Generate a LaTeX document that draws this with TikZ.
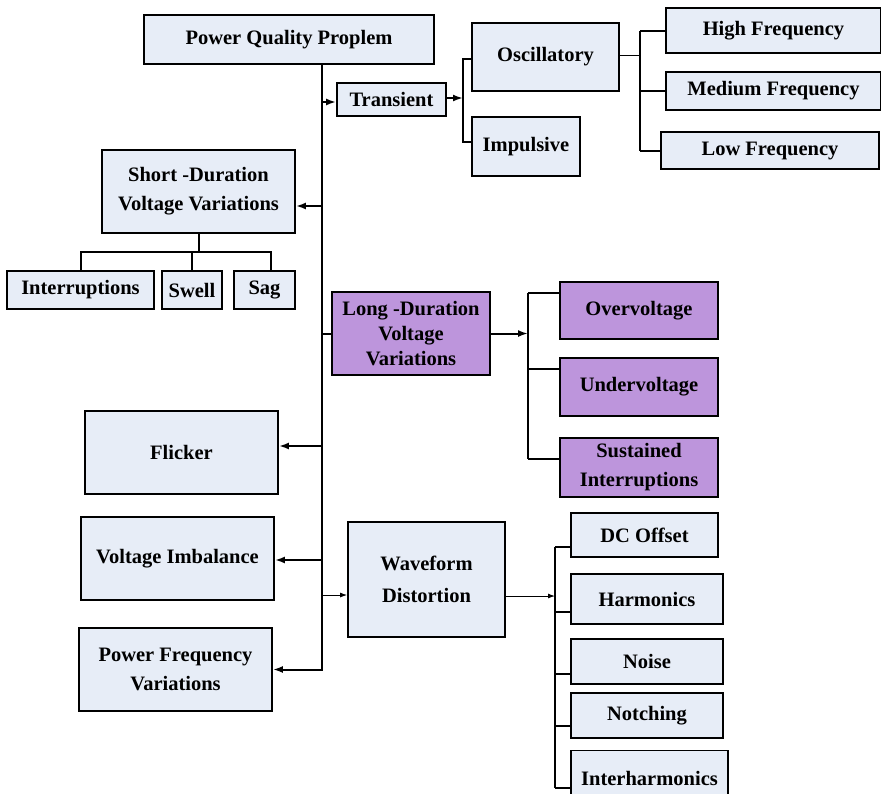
\documentclass[tikz,border=0pt]{standalone}
\usepackage{fontspec}
\setmainfont{Liberation Serif}
\usetikzlibrary{arrows.meta, positioning, calc}
\definecolor{boxblue}{HTML}{E7EDF7}
\definecolor{longpurple}{HTML}{BD95DC}

\begin{document}
\begin{tikzpicture}[
    x=1pt, y=-1pt,
    box/.style={draw, line width=1.8pt, fill=boxblue, inner sep=2pt, align=center, font=\fontsize{20.5}{29}\selectfont\bfseries},
    pbox/.style={box, fill=longpurple},
    line/.style={line width=2pt},
    thinline/.style={line width=0.9pt},
    arr/.style={-{Latex[length=10pt, width=7pt]}, line width=2pt},
    tarr/.style={-{Latex[length=7pt, width=5pt]}, line width=0.9pt},
]
\useasboundingbox (0,0) rectangle (881,793);

% root and the trunk below it
\node[box, minimum width=290pt, minimum height=49pt] (pqp) at (289,39.5) {Power Quality Proplem};
\coordinate (trunk) at (322,0);

% left side
\node[box, minimum width=193pt, minimum height=83pt] (sdv) at (198.5,191.5) {Short -Duration\\Voltage Variations};
\node[box, minimum width=147pt, minimum height=38pt] (intr) at (80.5,290) {Interruptions};
\node[box, minimum width=60pt, minimum height=38pt] (swell) at (192,290) {Swell};
\node[box, minimum width=61pt, minimum height=38pt] (sag) at (264.5,290) {Sag};
\node[box, minimum width=193pt, minimum height=83pt] (fl) at (181.5,452.5) {Flicker};
\node[box, minimum width=193pt, minimum height=83pt] (vi) at (177.5,558.5) {Voltage Imbalance};
\node[box, minimum width=193pt, minimum height=83pt] (pfv) at (175.5,669.5) {Power Frequency\\Variations};

% transient branch
\node[box, minimum width=109pt, minimum height=33pt] (trans) at (391.5,99.5) {Transient};
\node[box, minimum width=147pt, minimum height=68pt] (osc) at (545.5,57) {Oscillatory};
\node[box, minimum width=108pt, minimum height=59pt] (imp) at (526,146.5) {Impulsive};
\node[box, minimum width=215pt, minimum height=45pt] (hf) at (773.5,30.5) {High Frequency};
\node[box, minimum width=215pt, minimum height=38pt] (mf) at (773.5,91) {Medium Frequency};
\node[box, minimum width=218pt, minimum height=37pt] (lf) at (770,150.5) {Low Frequency};

% long duration branch
\node[pbox, minimum width=158pt, minimum height=83pt, font=\fontsize{20.5}{25}\selectfont\bfseries] (ldv) at (411,333.5) {Long -Duration\\Voltage\\Variations};
\node[pbox, minimum width=158pt, minimum height=57pt] (ov) at (639,310.5) {Overvoltage};
\node[pbox, minimum width=158pt, minimum height=58pt] (uv) at (639,387) {Undervoltage};
\node[pbox, minimum width=158pt, minimum height=59pt] (si) at (639,467.5) {Sustained\\Interruptions};

% waveform distortion branch
\node[box, minimum width=157pt, minimum height=115pt, font=\fontsize{20.5}{32}\selectfont\bfseries] (wd) at (426.5,579.5) {Waveform\\Distortion};
\node[box, minimum width=147pt, minimum height=44pt] (dc) at (644.5,535) {DC Offset};
\node[box, minimum width=152pt, minimum height=50pt] (har) at (647,599) {Harmonics};
\node[box, minimum width=152pt, minimum height=45pt] (noi) at (647,661.5) {Noise};
\node[box, minimum width=152pt, minimum height=45pt] (notc) at (647,715.5) {Notching};
\node[box, minimum width=157pt, minimum height=55pt] (ih) at (649.5,778) {Interharmonics};

% trunk
\draw[arr] (pqp.south -| trunk) |- (pfv.east);
\draw[arr] ([yshift=-2.5pt]trans.west -| trunk) -- ([yshift=-2.5pt]trans.west);
\draw[arr] ([yshift=-14.5pt]sdv.east -| trunk) -- ([yshift=-14.5pt]sdv.east);
\draw[arr] ([yshift=6.5pt]fl.east -| trunk) -- ([yshift=6.5pt]fl.east);
\draw[arr] ([yshift=-1.5pt]vi.east -| trunk) -- ([yshift=-1.5pt]vi.east);
\draw[line] (ldv.west -| trunk) -- (ldv.west);
\draw[tarr] ([yshift=-15.5pt]wd.west -| trunk) -- ([yshift=-15.5pt]wd.west);

% short duration children
\coordinate (sdbar) at (0,252);
\draw[line] (sdv.south) -- (sdv.south |- sdbar);
\draw[line] (intr.north) |- ([xshift=6.5pt]sag.north |- sdbar) -- ([xshift=6.5pt]sag.north);
\draw[line] (swell.north) -- (swell.north |- sdbar);

% transient children
\coordinate (br1) at (463,0);
\draw[arr] ([yshift=1.5pt]trans.east) -- ([yshift=1.5pt]trans.east -| br1);
\draw[line] ([yshift=-2pt]osc.west) -| ([yshift=4.5pt]imp.west -| br1) -- ([yshift=4.5pt]imp.west);
\coordinate (br2) at (640,0);
\draw[thinline] ([yshift=2pt]osc.east) -- ([yshift=2pt]osc.east -| br2);
\draw[line] (hf.west -| br2) -- (lf.west -| br2);
\foreach \n in {hf, mf, lf} {
    \draw[line] (\n.west -| br2) -- (\n.west);
}

% long duration children
\coordinate (br3) at (528,0);
\draw[arr] (ldv.east) -- (ldv.east -| br3);
\draw[line] ([yshift=17.5pt]ov.west -| br3) -- ([yshift=8.5pt]si.west -| br3);
\foreach \n/\s in {ov/17.5, uv/18, si/8.5} {
    \draw[line] ([yshift=\s pt]\n.west -| br3) -- ([yshift=\s pt]\n.west);
}

% waveform distortion children
\coordinate (br4) at (555,0);
\draw[tarr] ([yshift=-16.5pt]wd.east) -- ([yshift=-16.5pt]wd.east -| br4);
\draw[line] ([yshift=-12pt]dc.west -| br4) -- ([yshift=-10pt]ih.west -| br4);
\foreach \n/\s in {dc/-12, har/-13, noi/-12.5, notc/-10.5, ih/-10} {
    \draw[line] ([yshift=\s pt]\n.west -| br4) -- ([yshift=\s pt]\n.west);
}

\end{tikzpicture}
\end{document}
